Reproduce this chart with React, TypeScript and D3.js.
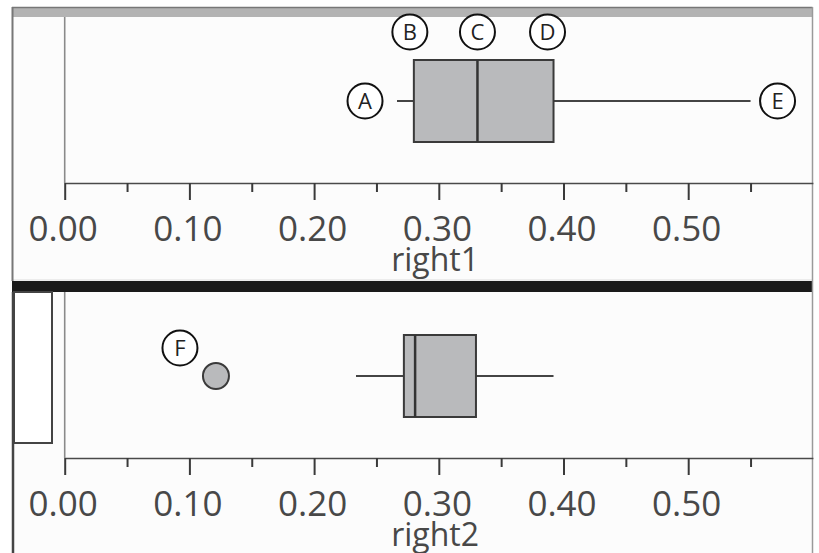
import React, { useEffect, useRef } from "react";
import * as d3 from "d3";

// ---- data ----
const panelNames = ["right1", "right2"];
const whiskerLow = [0.2665, 0.2336];
const q1 = [0.28, 0.272];
const median = [0.331, 0.281];
const q3 = [0.392, 0.3298];
const whiskerHigh = [0.55, 0.392];
const outliers = [[], [0.1213]];
const majorTicks = [0, 0.1, 0.2, 0.3, 0.4, 0.5];
const minorTicks = [0.05, 0.15, 0.25, 0.35, 0.45, 0.55];
const tickLabels = ["0.00", "0.10", "0.20", "0.30", "0.40", "0.50"];
// annotation letters: panel index, which statistic they mark
const annLetters = ["A", "B", "C", "D", "E", "F"];
const annPanel = [0, 0, 0, 0, 0, 1];
const annStat = ["low", "q1", "median", "q3", "high", "outlier"];

const W = 819;
const H = 553;
const x = d3.scaleLinear().domain([0, 0.6]).range([64.7, 812.9]);
const panelTop = [17, 292];
const axisY = [183, 458];
const FONT = "'Open Sans', 'Noto Sans', sans-serif";

// layout offsets for annotation circles (relative to the mark they point at)
const annOffset: Record<string, [number, number]> = {
  low: [-32, 0],
  q1: [-4, -69],
  median: [0, -69],
  q3: [-6, -69],
  high: [27, 0],
  outlier: [-36, -28],
};

function Axis({ i }: { i: number }) {
  const ref = useRef<SVGGElement>(null);
  useEffect(() => {
    const g = d3.select(ref.current!);
    g.selectAll("*").remove();
    const major = d3
      .axisBottom(x)
      .tickValues(majorTicks)
      .tickSize(17)
      .tickSizeOuter(0)
      .tickFormat((_d, k) => tickLabels[k]);
    const gm = g.append("g").call(major);
    gm.select(".domain").attr("stroke", "#4a4a4a").attr("stroke-width", 1.6);
    gm.selectAll(".tick line").attr("stroke", "#3a3a3a").attr("stroke-width", 2);
    gm.selectAll(".tick text")
      .attr("y", 58)
      .attr("dy", null)
      .attr("dx", -2)
      .attr("fill", "#484848")
      .style("font-family", FONT)
      .style("font-size", "35px");
    gm.attr("font-family", null).attr("font-size", null);
    const minor = d3
      .axisBottom(x)
      .tickValues(minorTicks)
      .tickSize(9)
      .tickSizeOuter(0)
      .tickFormat(() => "");
    const gn = g.append("g").call(minor);
    gn.select(".domain").remove();
    gn.selectAll(".tick line").attr("stroke", "#3a3a3a").attr("stroke-width", 2);
  }, [i]);
  return <g ref={ref} transform={`translate(0,${axisY[i]})`} />;
}

function Circled({ cx, cy, t }: { cx: number; cy: number; t: string }) {
  return (
    <g>
      <circle cx={cx} cy={cy} r={17.5} fill="#fff" stroke="#111" strokeWidth={2} />
      <text
        x={cx}
        y={cy + 8}
        textAnchor="middle"
        fontFamily={FONT}
        fontSize={22}
        fill="#222"
      >
        {t}
      </text>
    </g>
  );
}

function statValue(i: number, s: string): number {
  if (s === "low") return whiskerLow[i];
  if (s === "q1") return q1[i];
  if (s === "median") return median[i];
  if (s === "q3") return q3[i];
  if (s === "high") return whiskerHigh[i];
  return outliers[i][0];
}

export default function App() {
  return (
    <svg
      width={W}
      height={H}
      style={{ position: "absolute", left: 0, top: 0, background: "#fff" }}
    >
      {/* frame */}
      <rect x={12} y={7} width={800.5} height={H} fill="#fcfcfc" />
      <rect x={12} y={7} width={800.5} height={10} fill="#b3b3b3" />
      <line x1={12} x2={812.5} y1={7.5} y2={7.5} stroke="#777" strokeWidth={1.5} />
      <line x1={12} x2={812.5} y1={280} y2={280} stroke="#ddd" strokeWidth={1} />
      <rect x={12} y={281} width={801} height={11} fill="#1a1a1a" />
      <line x1={12.5} x2={12.5} y1={7} y2={281} stroke="#777" strokeWidth={2} />
      <line x1={13} x2={13} y1={292} y2={H} stroke="#444" strokeWidth={2.5} />
      <line x1={812.5} x2={812.5} y1={7} y2={H} stroke="#9a9a9a" strokeWidth={1.5} />
      {/* empty left rectangle in bottom panel */}
      <rect x={14} y={292} width={38} height={151} fill="#fff" stroke="#444" strokeWidth={2} />

      {panelNames.map((name, i) => {
        const ay = axisY[i];
        const wy = ay - 82;
        return (
          <g key={name}>
            <line
              x1={x(0)}
              x2={x(0)}
              y1={panelTop[i]}
              y2={ay}
              stroke="#8a8a8a"
              strokeWidth={1.6}
            />
            <Axis i={i} />
            <text
              x={x(0.297)}
              y={ay + 88}
              textAnchor="middle"
              fontFamily={FONT}
              fontSize={32}
              fill="#484848"
            >
              {name}
            </text>
            {/* whiskers */}
            <line x1={x(whiskerLow[i])} x2={x(q1[i])} y1={wy} y2={wy} stroke="#444" strokeWidth={2} />
            <line x1={x(q3[i])} x2={x(whiskerHigh[i])} y1={wy} y2={wy} stroke="#444" strokeWidth={2} />
            {/* box */}
            <rect
              x={x(q1[i])}
              y={ay - 123}
              width={x(q3[i]) - x(q1[i])}
              height={82}
              fill="#b9babc"
              stroke="#3a3a3a"
              strokeWidth={2}
            />
            <line x1={x(median[i])} x2={x(median[i])} y1={ay - 123} y2={ay - 41} stroke="#333" strokeWidth={2.5} />
            {outliers[i].map((v, k) => (
              <circle key={k} cx={x(v)} cy={wy} r={13} fill="#b9babc" stroke="#3a3a3a" strokeWidth={2} />
            ))}
          </g>
        );
      })}

      {annLetters.map((t, k) => {
        const i = annPanel[k];
        const s = annStat[k];
        const [dx, dy] = annOffset[s];
        return <Circled key={t} cx={x(statValue(i, s)) + dx} cy={axisY[i] - 82 + dy} t={t} />;
      })}
    </svg>
  );
}
